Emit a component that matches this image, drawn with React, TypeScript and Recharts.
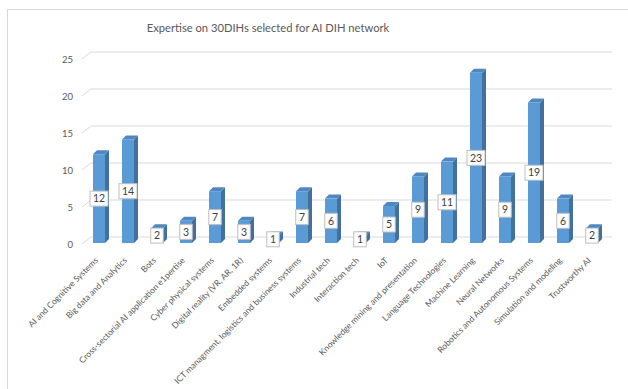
import { Bar, BarChart, CartesianGrid, LabelList, XAxis, YAxis } from "recharts";

const categories = [
  "AI and Cognitive Systems",
  "Big data and Analytics",
  "Bots",
  "Cross-sectorial AI application e1pertise",
  "Cyber physical systems",
  "Digital reality (VR, AR, 1R)",
  "Embedded systems",
  "ICT managment, logistics and business systems",
  "Industrial tech",
  "Interaction tech",
  "IoT",
  "Knowledge mining and presentation",
  "Language Technologies",
  "Machine Learning",
  "Neural Networks",
  "Robotics and Autonomous Systems",
  "Simulation and modeling",
  "Trustworthy AI",
];
const counts = [12, 14, 2, 3, 7, 3, 1, 7, 6, 1, 5, 9, 11, 23, 9, 19, 6, 2];
const yTicks = [0, 5, 10, 15, 20, 25];

const data = categories.map((name, i) => ({ name, value: counts[i] }));

const FONT = "Lato, 'Open Sans', sans-serif";
const TEXT = "#595959";
const DEPTH_X = 4;
const DEPTH_Y = 4;

// 3d column: front face, side face, top face
const Column3D = (props: any) => {
  const { x, y, width, height } = props;
  if (height == null || height <= 0) return null;
  const r = x + width;
  const b = y + height;
  return (
    <g>
      <path
        d={`M${r},${y} L${r + DEPTH_X},${y - DEPTH_Y} L${r + DEPTH_X},${b - DEPTH_Y} L${r},${b} Z`}
        fill="#41719C"
      />
      <path
        d={`M${x},${y} L${x + DEPTH_X},${y - DEPTH_Y} L${r + DEPTH_X},${y - DEPTH_Y} L${r},${y} Z`}
        fill="#4F87C2"
      />
      <rect x={x} y={y} width={width} height={height} fill="#5B9BD5" />
    </g>
  );
};

const ValueBox = (props: any) => {
  const { x, y, width, height, value } = props;
  const cx = x + width / 2;
  const cy = y + height / 2;
  const w = 7 + String(value).length * 5.5;
  const h = 15;
  return (
    <g>
      <rect x={cx - w / 2} y={cy - h / 2} width={w} height={h} fill="#fff" stroke="#bfbfbf" strokeWidth={1} />
      <text x={cx} y={cy} dy="0.36em" textAnchor="middle" fontSize={10.5} fill="#404040" fontFamily={FONT}>
        {value}
      </text>
    </g>
  );
};

const GridLine = (props: any) => {
  const { x1, x2, y1 } = props;
  return (
    <path
      key={props.key}
      d={`M${x1 - 2},${y1 + 1} L${x1 + 7},${y1 - 6} L${x2 + 6},${y1 - 6}`}
      fill="none"
      stroke="#d9d9d9"
      strokeWidth={1}
    />
  );
};

const CategoryTick = (props: any) => {
  const { x, y, payload } = props;
  const tx = x;
  const ty = y + 10;
  return (
    <text
      x={tx}
      y={ty}
      transform={`rotate(-45, ${tx}, ${ty})`}
      textAnchor="end"
      fontSize={8.5}
      fill={TEXT}
      fontFamily={FONT}
    >
      {payload.value}
    </text>
  );
};

export default function App() {
  return (
    <div style={{ position: "absolute", left: 0, top: 0, width: 628, height: 389, overflow: "hidden", background: "#fff" }}>
      <div
        style={{
          position: "absolute", left: 7, top: 9, width: 700, height: 500,
          border: "1px solid #d9d9d9",
        }}
      />
      <div
        style={{
          position: "absolute", left: 0, top: 21, width: 536, textAlign: "center",
          fontFamily: FONT, fontSize: 11.2, color: TEXT,
        }}
      >
        Expertise on 30DIHs selected for AI DIH network
      </div>
      <div style={{ position: "absolute", left: 0, top: 0 }}>
        <BarChart width={628} height={389} data={data} margin={{ top: 58, right: 22, left: 44, bottom: 0 }}>
          <CartesianGrid vertical={false} horizontal={GridLine as any} />
          <XAxis
            dataKey="name"
            interval={0}
            axisLine={false}
            tickLine={false}
            height={146}
            tick={<CategoryTick />}
          />
          <YAxis
            domain={[0, 25]}
            ticks={yTicks}
            axisLine={false}
            tickLine={false}
            width={40}
            tickMargin={5}
            tick={{ fontSize: 9.5, fill: TEXT, fontFamily: FONT, dy: 2 }}
          />
          <Bar dataKey="value" barSize={12} shape={<Column3D />} isAnimationActive={false}>
            <LabelList dataKey="value" content={<ValueBox />} />
          </Bar>
        </BarChart>
      </div>
    </div>
  );
}
